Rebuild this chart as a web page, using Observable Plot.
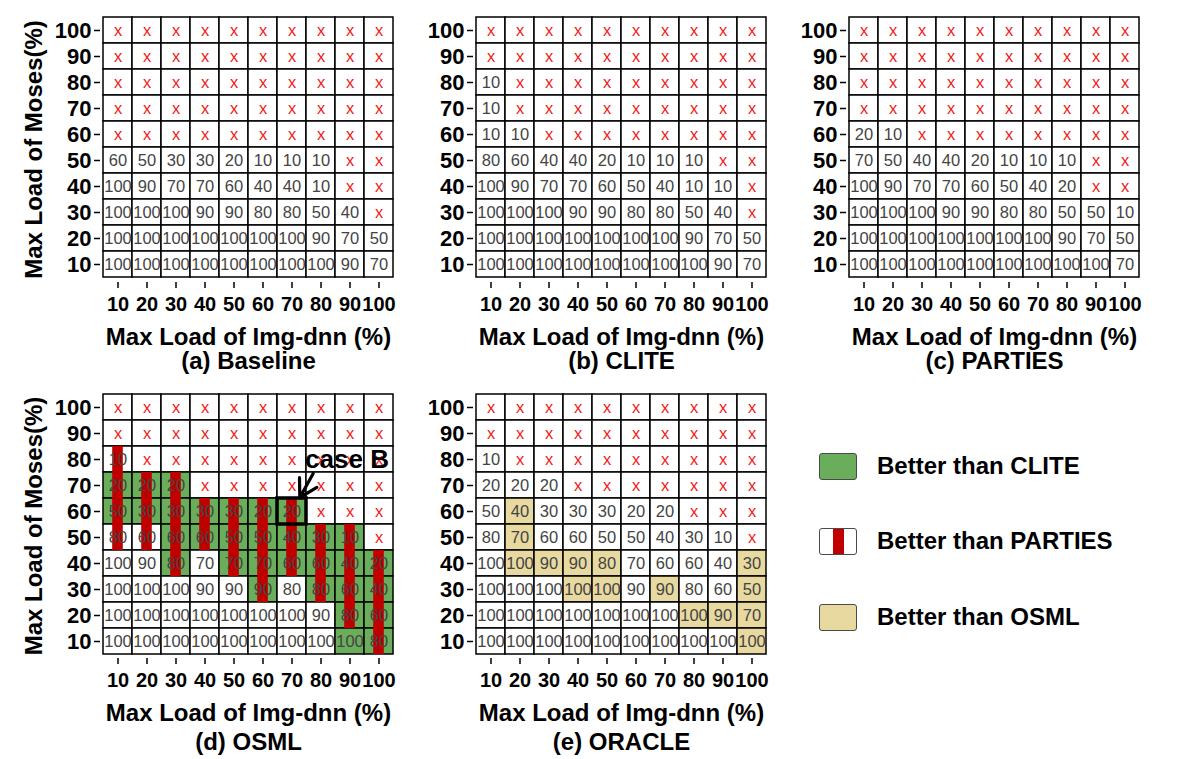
<!DOCTYPE html>
<html><head><meta charset="utf-8">
<script src="https://cdn.jsdelivr.net/npm/d3@7"></script>
<script src="https://cdn.jsdelivr.net/npm/@observablehq/plot@0.6"></script>
<style>
body{margin:0;background:#fff;font-family:"Liberation Sans",Arial,sans-serif;}
#root{position:relative;width:1184px;height:759px;overflow:hidden;background:#fff;}
.panel{position:absolute;}
.legend-item{position:absolute;left:819px;display:flex;align-items:center;font-weight:bold;font-size:24px;color:#000;}
.sw{width:38px;height:27px;border:1.5px solid #4a4a4a;border-radius:3px;box-sizing:border-box;margin-right:20px;position:relative;background:#fff;}
.sw .bar{position:absolute;left:13px;width:11px;top:0;bottom:0;background:#c00000;}
</style></head><body><div id="root"></div>
<script>
// ---- data ----
const imgLoads = [10, 20, 30, 40, 50, 60, 70, 80, 90, 100];      // x categories (Img-dnn max load %)
const mosesLoads = [100, 90, 80, 70, 60, 50, 40, 30, 20, 10];    // y categories, top to bottom (Moses max load %)
const X = null; // infeasible ("x")

const baseline = [
  [X, X, X, X, X, X, X, X, X, X],
  [X, X, X, X, X, X, X, X, X, X],
  [X, X, X, X, X, X, X, X, X, X],
  [X, X, X, X, X, X, X, X, X, X],
  [X, X, X, X, X, X, X, X, X, X],
  [60, 50, 30, 30, 20, 10, 10, 10, X, X],
  [100, 90, 70, 70, 60, 40, 40, 10, X, X],
  [100, 100, 100, 90, 90, 80, 80, 50, 40, X],
  [100, 100, 100, 100, 100, 100, 100, 90, 70, 50],
  [100, 100, 100, 100, 100, 100, 100, 100, 90, 70]
];
const clite = [
  [X, X, X, X, X, X, X, X, X, X],
  [X, X, X, X, X, X, X, X, X, X],
  [10, X, X, X, X, X, X, X, X, X],
  [10, X, X, X, X, X, X, X, X, X],
  [10, 10, X, X, X, X, X, X, X, X],
  [80, 60, 40, 40, 20, 10, 10, 10, X, X],
  [100, 90, 70, 70, 60, 50, 40, 10, 10, X],
  [100, 100, 100, 90, 90, 80, 80, 50, 40, X],
  [100, 100, 100, 100, 100, 100, 100, 90, 70, 50],
  [100, 100, 100, 100, 100, 100, 100, 100, 90, 70]
];
const parties = [
  [X, X, X, X, X, X, X, X, X, X],
  [X, X, X, X, X, X, X, X, X, X],
  [X, X, X, X, X, X, X, X, X, X],
  [X, X, X, X, X, X, X, X, X, X],
  [20, 10, X, X, X, X, X, X, X, X],
  [70, 50, 40, 40, 20, 10, 10, 10, X, X],
  [100, 90, 70, 70, 60, 50, 40, 20, X, X],
  [100, 100, 100, 90, 90, 80, 80, 50, 50, 10],
  [100, 100, 100, 100, 100, 100, 100, 90, 70, 50],
  [100, 100, 100, 100, 100, 100, 100, 100, 100, 70]
];
const osml = [
  [X, X, X, X, X, X, X, X, X, X],
  [X, X, X, X, X, X, X, X, X, X],
  [10, X, X, X, X, X, X, X, X, X],
  [20, 20, 20, X, X, X, X, X, X, X],
  [50, 30, 30, 30, 30, 20, 20, X, X, X],
  [80, 60, 60, 60, 50, 50, 40, 30, 10, X],
  [100, 90, 80, 70, 70, 70, 60, 60, 40, 20],
  [100, 100, 100, 90, 90, 90, 80, 80, 60, 40],
  [100, 100, 100, 100, 100, 100, 100, 90, 80, 60],
  [100, 100, 100, 100, 100, 100, 100, 100, 100, 80]
];
const oracle = [
  [X, X, X, X, X, X, X, X, X, X],
  [X, X, X, X, X, X, X, X, X, X],
  [10, X, X, X, X, X, X, X, X, X],
  [20, 20, 20, X, X, X, X, X, X, X],
  [50, 40, 30, 30, 30, 20, 20, X, X, X],
  [80, 70, 60, 60, 50, 50, 40, 30, 10, X],
  [100, 100, 90, 90, 80, 70, 60, 60, 40, 30],
  [100, 100, 100, 100, 100, 90, 90, 80, 60, 50],
  [100, 100, 100, 100, 100, 100, 100, 100, 90, 70],
  [100, 100, 100, 100, 100, 100, 100, 100, 100, 100]
];
const panelTitles = ["(a) Baseline", "(b) CLITE", "(c) PARTIES", "(d) OSML", "(e) ORACLE"];
const xTitle = "Max Load of Img-dnn (%)";
const yTitle = "Max Load of Moses(%)";
const legendLabels = ["Better than CLITE", "Better than PARTIES", "Better than OSML"];
const caseB = [{label: "case B", img: 70, moses: 60, labelImg: 90, labelMoses: 80, fromImg: 80, fromMoses: 80}];

// ---- styles ----
const GREEN = "#6aae5b", RED = "#c00000", TAN = "#e7d9a0";
const better = (a, b) => (a ?? -1) > (b ?? -1);

function makePanel(p) {
  const cells = [];
  mosesLoads.forEach((m, i) => imgLoads.forEach((g, j) => cells.push({img: g, moses: m, i, j, v: p.values[i][j]})));
  const marks = [
    Plot.cell(cells, {x: "img", y: "moses", fill: d => p.fill ? p.fill(d) : "white", stroke: "black", strokeWidth: 1.5})
  ];
  if (p.bar) marks.push(Plot.cell(cells.filter(p.bar), {x: "img", y: "moses", fill: RED, insetLeft: 9.2, insetRight: 9.2}));
  marks.push(Plot.text(cells, {x: "img", y: "moses", text: d => d.v == null ? "x" : String(d.v),
    fill: d => d.v == null ? "#f21b1b" : "#444", fontSize: 16.5, fontWeight: "normal"}));
  if (p.extra) marks.push(...p.extra);
  marks.push(
    Plot.axisX({tickSize: 6, tickPadding: 8, fontSize: 20, strokeWidth: 1.5, label: null}),
    Plot.axisY({tickSize: 6, tickPadding: 3, fontSize: 22, strokeWidth: 1.5, label: null}),
    Plot.text([xTitle], {frameAnchor: "bottom", text: d => d, dx: 1.5, dy: 55, lineAnchor: "middle", fontSize: 24, fontWeight: "bold", fill: "black"}),
    Plot.text([p.title], {frameAnchor: "bottom", text: d => d, dx: 1.5, dy: p.subDy, lineAnchor: "middle", fontSize: 24, fontWeight: "bold", fill: "black"})
  );
  if (p.yTitle) marks.push(Plot.text([yTitle], {frameAnchor: "left", text: d => d, dx: -66, rotate: -90, textAnchor: "middle", lineAnchor: "middle", fontSize: 24, fontWeight: "bold", fill: "black"}));
  return Plot.plot({
    width: 405, height: p.height,
    marginLeft: 100, marginRight: 12, marginTop: 16, marginBottom: p.marginBottom,
    x: {type: "band", domain: imgLoads, padding: 0, insetLeft: 3},
    y: {type: "band", domain: mosesLoads, padding: 0, insetBottom: 4},
    color: {type: "identity"},
    style: {fontFamily: "'Liberation Sans', Arial, sans-serif", fontWeight: "bold", background: "none", overflow: "visible", color: "black"},
    marks
  });
}

const panels = [
  {values: baseline, title: panelTitles[0], left: 0, top: 0, height: 377, marginBottom: 95, subDy: 79, yTitle: true},
  {values: clite, title: panelTitles[1], left: 373, top: 0, height: 377, marginBottom: 95, subDy: 79},
  {values: parties, title: panelTitles[2], left: 746, top: 0, height: 377, marginBottom: 95, subDy: 79},
  {values: osml, title: panelTitles[3], left: 0, top: 377, height: 381, marginBottom: 100, subDy: 84, yTitle: true,
   fill: d => better(osml[d.i][d.j], clite[d.i][d.j]) ? GREEN : "white",
   bar: d => better(osml[d.i][d.j], parties[d.i][d.j]),
   extra: [
     Plot.cell(caseB, {x: "img", y: "moses", fill: "none", stroke: "black", strokeWidth: 3.5}),
     Plot.arrow(caseB, {x1: "fromImg", y1: "fromMoses", x2: "img", y2: "moses", insetStart: 16, insetEnd: 16, stroke: "black", strokeWidth: 3.2, headLength: 11}),
     Plot.text(caseB, {x: "labelImg", y: "labelMoses", text: "label", fontSize: 26, fontWeight: "bold", fill: "black", dx: -3})
   ]},
  {values: oracle, title: panelTitles[4], left: 373, top: 377, height: 381, marginBottom: 100, subDy: 84,
   fill: d => better(oracle[d.i][d.j], osml[d.i][d.j]) ? TAN : "white"}
];

const root = document.getElementById("root");
for (const p of panels) {
  const div = document.createElement("div");
  div.className = "panel";
  div.style.left = p.left + "px";
  div.style.top = p.top + "px";
  div.appendChild(makePanel(p));
  root.appendChild(div);
}

// legend
const swatches = [
  {bg: GREEN, bar: false, top: 452},
  {bg: "#fff", bar: true, top: 527},
  {bg: TAN, bar: false, top: 603}
];
legendLabels.forEach((label, k) => {
  const s = swatches[k];
  const item = document.createElement("div");
  item.className = "legend-item";
  item.style.top = s.top + "px";
  const sw = document.createElement("div");
  sw.className = "sw";
  sw.style.background = s.bg;
  if (s.bar) { const b = document.createElement("div"); b.className = "bar"; sw.appendChild(b); }
  const t = document.createElement("span");
  t.textContent = label;
  item.appendChild(sw);
  item.appendChild(t);
  root.appendChild(item);
});
</script>
</body></html>
